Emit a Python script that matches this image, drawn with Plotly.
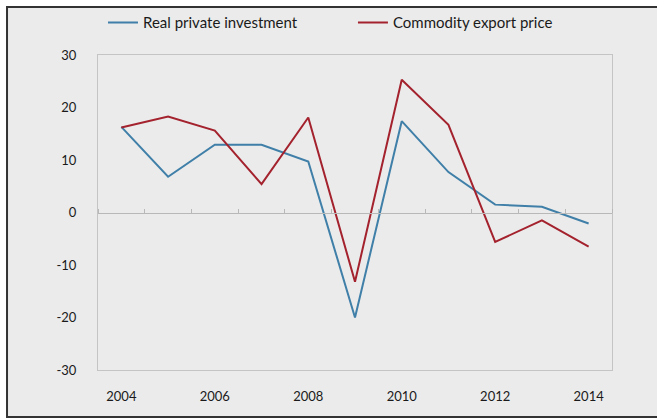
import plotly.graph_objects as go

# Annual growth rates, per cent
years = [2004, 2005, 2006, 2007, 2008, 2009, 2010, 2011, 2012, 2013, 2014]
real_private_investment = [16.3, 6.8, 12.9, 12.9, 9.7, -20.0, 17.4, 7.7, 1.5, 1.1, -2.1]
commodity_export_price = [16.2, 18.3, 15.6, 5.4, 18.1, -13.2, 25.3, 16.7, -5.6, -1.5, -6.5]

y_ticks = [-30, -20, -10, 0, 10, 20, 30]
y_tick_labels = [str(v) for v in y_ticks]
x_ticks = [2004, 2006, 2008, 2010, 2012, 2014]
x_tick_labels = [str(v) for v in x_ticks]

BLUE = "#3f7fa8"
RED = "#a3222d"
BG = "#ebebeb"
TEXT = "#1a1a1a"
FONT = "Lato, 'Open Sans', sans-serif"

fig = go.Figure()
fig.add_trace(go.Scatter(
    x=years, y=real_private_investment, mode="lines",
    name="Real private investment",
    line=dict(color=BLUE, width=2), legend="legend",
))
fig.add_trace(go.Scatter(
    x=years, y=commodity_export_price, mode="lines",
    name="Commodity export price",
    line=dict(color=RED, width=2), legend="legend2",
))
# invisible trace that carries the category axis drawn along zero
fig.add_trace(go.Scatter(
    x=years, y=[0] * len(years), mode="lines", xaxis="x2",
    line=dict(width=0), hoverinfo="skip", showlegend=False,
))

fig.update_layout(
    width=657, height=419,
    margin=dict(l=98, r=45, t=55, b=49, autoexpand=False),
    paper_bgcolor="white",
    plot_bgcolor=BG,
    font=dict(family=FONT, size=13, color=TEXT),
    xaxis=dict(
        range=[2003.5, 2014.5],
        tickvals=x_ticks, ticktext=x_tick_labels,
        showgrid=False, zeroline=False,
        showline=True, mirror=True, linecolor="#c4c4c4", linewidth=1,
        ticks="", ticklabelstandoff=14,
        tickfont=dict(size=13, color=TEXT),
    ),
    xaxis2=dict(
        overlaying="x", anchor="free", position=0.5, side="top",
        range=[2003.5, 2014.5], tick0=2003.5, dtick=1,
        showticklabels=False, showgrid=False, zeroline=False,
        showline=True, linecolor="#b8b8b8", linewidth=1,
        ticks="outside", ticklen=4, tickcolor="#b8b8b8", tickwidth=1,
    ),
    yaxis=dict(
        range=[-30, 30],
        tickvals=y_ticks, ticktext=y_tick_labels,
        showgrid=False, zeroline=False,
        showline=True, mirror=True, linecolor="#c4c4c4", linewidth=1,
        ticks="", ticklabelstandoff=18,
        tickfont=dict(size=13, color=TEXT),
    ),
    legend=dict(
        x=0.0097, y=1.1025, xanchor="left", yanchor="middle",
        bgcolor="rgba(0,0,0,0)", font=dict(size=15, color=TEXT),
    ),
    legend2=dict(
        x=0.496, y=1.1025, xanchor="left", yanchor="middle",
        bgcolor="rgba(0,0,0,0)", font=dict(size=15, color=TEXT),
    ),
    shapes=[
        # grey panel framed on the top, left and bottom
        dict(
            type="rect", xref="paper", yref="paper", layer="below",
            x0=-0.177, x1=1.5, y0=-0.1492, y1=1.1524,
            fillcolor=BG, line=dict(width=0),
        ),
        dict(
            type="path", xref="paper", yref="paper", layer="below",
            path="M 1.5,1.1524 L -0.177,1.1524 L -0.177,-0.1492 L 1.5,-0.1492",
            line=dict(color="#333333", width=2),
        ),
    ],
    showlegend=True,
)

fig.write_html("out.html")
